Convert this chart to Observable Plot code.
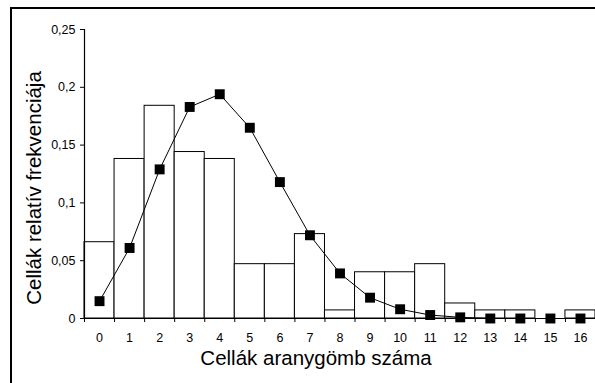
<!DOCTYPE html>
<html>
<head>
<meta charset="utf-8">
<script src="https://cdn.jsdelivr.net/npm/d3@7"></script>
<script src="https://cdn.jsdelivr.net/npm/@observablehq/plot@0.6"></script>
<style>
  html, body { margin: 0; padding: 0; background: #fff; overflow: hidden; }
  #wrap { position: relative; width: 595px; height: 383px; overflow: hidden; }
  #frame { position: absolute; left: 10px; top: 7px; width: 700px; height: 500px;
           border-left: 2px solid #000; border-top: 2px solid #000; pointer-events: none; }
  #chart { position: absolute; left: 0; top: 0; }
</style>
</head>
<body>
<div id="wrap"><div id="chart"></div><div id="frame"></div></div>
<script>
const categories = [0, 1, 2, 3, 4, 5, 6, 7, 8, 9, 10, 11, 12, 13, 14, 15, 16];
const observed = [0.066, 0.138, 0.184, 0.144, 0.138, 0.047, 0.047, 0.073, 0.007, 0.040, 0.040, 0.047, 0.013, 0.007, 0.007, 0, 0.007];
const expected = [0.015, 0.061, 0.129, 0.183, 0.194, 0.165, 0.118, 0.072, 0.039, 0.018, 0.008, 0.003, 0.001, 0, 0, 0, 0];
const yTicks = [0, 0.05, 0.1, 0.15, 0.2, 0.25];
const xLabel = "Cellák aranygömb száma";
const yLabel = "Cellák relatív frekvenciája";

const bars = categories.map((k, i) => ({k, lo: k - 0.5, hi: k + 0.5, v: observed[i]}));
const pts = categories.map((k, i) => ({k, v: expected[i]}));
const bounds = categories.map(k => k - 0.5).concat([categories[categories.length - 1] + 0.5]);
const fmt = d => String(d).replace(".", ",");

const chart = Plot.plot({
  width: 595,
  height: 383,
  marginLeft: 84,
  marginRight: 0,
  marginTop: 29,
  marginBottom: 65,
  style: {fontFamily: "'Liberation Sans', Arial, sans-serif", fontSize: "12.5px", color: "#000", background: "transparent"},
  x: {domain: [-0.5, 16.5]},
  y: {domain: [0, 0.25]},
  marks: [
    Plot.rectY(bars, {x1: "lo", x2: "hi", y: "v", fill: "white", stroke: "#000", strokeWidth: 1}),
    Plot.ruleY([0], {stroke: "#000", strokeWidth: 1.2}),
    Plot.ruleX([-0.5], {y1: 0, y2: 0.25, stroke: "#000", strokeWidth: 1.2}),
    Plot.axisY({ticks: yTicks, tickFormat: fmt, tickSize: 4, tickPadding: 5, label: null, fontSize: 12.5}),
    Plot.axisX({ticks: bounds, tickFormat: () => "", tickSize: 4, label: null}),
    Plot.axisX({ticks: categories, tickFormat: d => String(d), tickSize: 0, tickPadding: 15, label: null, fontSize: 12.5}),
    Plot.line(pts, {x: "k", y: "v", stroke: "#000", strokeWidth: 1}),
    Plot.dot(pts, {x: "k", y: "v", symbol: "square", r: 5.6, fill: "#000", stroke: "none"}),
    Plot.text([xLabel], {frameAnchor: "bottom", textAnchor: "middle", dx: -24, dy: 46, fontSize: 20.5, fill: "#000"}),
    Plot.text([yLabel], {frameAnchor: "left", textAnchor: "middle", rotate: -90, dx: -50, dy: 14, fontSize: 20.5, fill: "#000"})
  ]
});
document.getElementById("chart").appendChild(chart);
</script>
</body>
</html>
